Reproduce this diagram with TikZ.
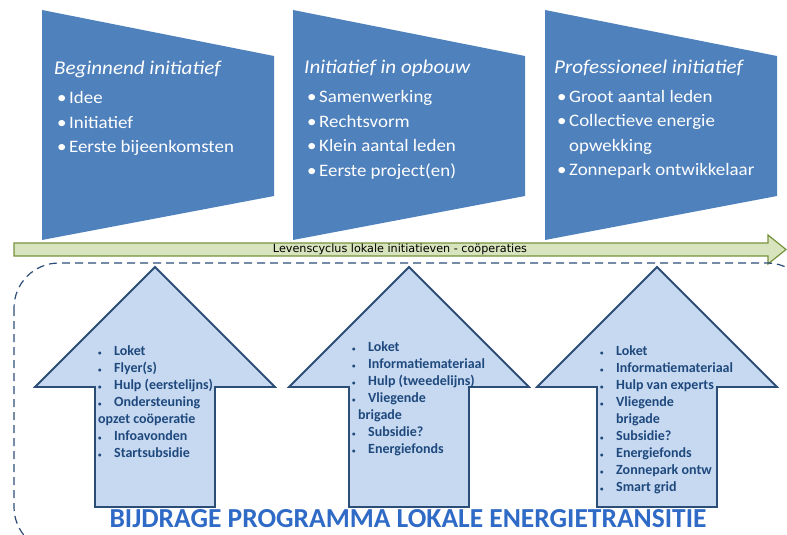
\documentclass[tikz,border=0pt]{standalone}
\usepackage{fontspec}
\setmainfont{Carlito}
\newfontfamily\stagefont[FakeStretch=1.08]{Carlito}
\newfontfamily\labelfont{DejaVu Sans}
\usetikzlibrary{positioning, calc}
\definecolor{stage-blue}{HTML}{4F81BD}
\definecolor{cycle-fill}{HTML}{D7E4BD}
\definecolor{cycle-line}{HTML}{77933C}
\definecolor{help-fill}{HTML}{C6D9F1}
\definecolor{help-line}{HTML}{2C4D75}
\definecolor{help-text}{HTML}{1F497D}
\definecolor{title-blue}{HTML}{2E6AC6}
\newcommand{\stagebullet}[1]{\makebox[12pt][l]{\textbullet}#1}
\newcommand{\helpbullet}[1]{\makebox[16pt][l]{\scriptsize\textbullet}#1}

\begin{document}
\begin{tikzpicture}[
    x=1pt, y=-1pt,
    stage/.style={fill=stage-blue},
    stagetitle/.style={anchor=west, inner sep=0pt, text=white, font=\stagefont\fontsize{19.5}{22}\selectfont\itshape},
    stagelist/.style={inner sep=0pt, text=white, align=left, font=\stagefont\fontsize{17.5}{24.5}\selectfont},
    cycle/.style={draw=cycle-line, fill=cycle-fill, line width=1.2pt},
    programme/.style={draw=help-line, line width=1.2pt, dash pattern=on 8pt off 5pt, rounded corners=45pt},
    helparrow/.style={draw=help-line, fill=help-fill, line width=1.8pt, line join=miter},
    helplist/.style={anchor=north west, inner sep=0pt, text=help-text, align=left, font=\fontsize{14}{17}\selectfont\bfseries}
]
    \useasboundingbox (0,0) rectangle (787,535);
    \clip (0,0) rectangle (787,535);

    % stages of the life cycle
    \foreach \sx/\sname in {42/begin, 293/build, 545/pro}{
        \fill[stage] (\sx,10) -- ++(232,46) -- ++(0,140) -- (\sx,240) -- cycle;
        \coordinate (\sname) at (\sx,10);
    }
    \node[stagetitle] (beginTitle) at (54,69) {Beginnend initiatief};
    \node[stagetitle] (buildTitle) at (304,68) {Initiatief in opbouw};
    \node[stagetitle] (proTitle) at (554,68) {Professioneel initiatief};
    \node[stagelist, below right=14pt and 3pt of beginTitle.south west] (beginList)
        {\stagebullet{Idee}\\ \stagebullet{Initiatief}\\ \stagebullet{Eerste bijeenkomsten}};
    \node[stagelist, below right=14pt and 3pt of buildTitle.south west] (buildList)
        {\stagebullet{Samenwerking}\\ \stagebullet{Rechtsvorm}\\ \stagebullet{Klein aantal leden}\\ \stagebullet{Eerste project(en)}};
    \node[stagelist, below right=14pt and 3pt of proTitle.south west] (proList)
        {\stagebullet{Groot aantal leden}\\ \stagebullet{Collectieve energie}\\ \hspace*{12pt}opwekking\\ \stagebullet{Zonnepark ontwikkelaar}};

    % life cycle arrow
    \draw[cycle] (14,243) -- (768,243) -- (768,235) -- (786,249.5) -- (768,264) -- (768,256) -- (14,256) -- cycle;
    \node[font=\labelfont\fontsize{11.2}{12}\selectfont] (cycleLabel) at (400,249.5) {Levenscyclus lokale initiatieven - coöperaties};

    % programme frame and support arrows
    \draw[programme] (14,263) rectangle (812,552);
    \foreach \cx/\aname in {155/first, 409/second, 657/third}{
        \draw[helparrow] (\cx,267) -- ++(120,120) -- ++(-60,0) -- ++(0,120) -- ++(-120,0) -- ++(0,-120) -- ++(-60,0) -- cycle;
        \coordinate (\aname) at (\cx,387);
    }
    \node[helplist] (firstList) at (98,345)
        {\helpbullet{Loket}\\ \helpbullet{Flyer(s)}\\ \helpbullet{Hulp (eerstelijns)}\\ \helpbullet{Ondersteuning}\\ opzet coöperatie\\ \helpbullet{Infoavonden}\\ \helpbullet{Startsubsidie}};
    \node[helplist] (secondList) at (352,341)
        {\helpbullet{Loket}\\ \helpbullet{Informatiemateriaal}\\ \helpbullet{Hulp (tweedelijns)}\\ \helpbullet{Vliegende}\\ \hspace*{6pt}brigade\\ \helpbullet{Subsidie?}\\ \helpbullet{Energiefonds}};
    \node[helplist] (thirdList) at (600,345)
        {\helpbullet{Loket}\\ \helpbullet{Informatiemateriaal}\\ \helpbullet{Hulp van experts}\\ \helpbullet{Vliegende}\\ \hspace*{16pt}brigade\\ \helpbullet{Subsidie?}\\ \helpbullet{Energiefonds}\\ \helpbullet{Zonnepark ontw}\\ \helpbullet{Smart grid}};

    \node[anchor=base, inner sep=0pt, text depth=0pt, font=\fontsize{27.5}{30}\selectfont\bfseries, text=title-blue] (programmeTitle) at (408,527.5)
        {BIJDRAGE PROGRAMMA LOKALE ENERGIETRANSITIE};
\end{tikzpicture}
\end{document}
